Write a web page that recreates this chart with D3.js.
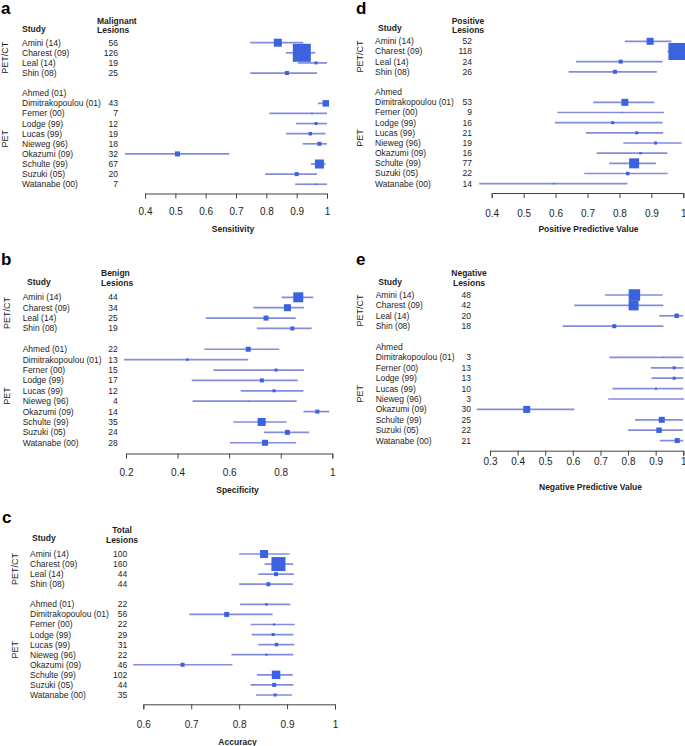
<!DOCTYPE html>
<html><head><meta charset="utf-8">
<script src="https://cdn.jsdelivr.net/npm/d3@7"></script>
<style>
body{margin:0;background:#fff}
svg{display:block;font-family:"Liberation Sans",Arial,Helvetica,sans-serif}
</style>
</head><body>
<svg id="chart" width="685" height="746"></svg>
<script>
// ---------------- DATA ----------------
const studiesYr = ["Amini (14)","Charest (09)","Leal (14)","Shin (08)","Ahmed (01)","Dimitrakopoulou (01)","Ferner (00)","Lodge (99)","Lucas (99)","Nieweg (96)","Okazumi (09)","Schulte (99)","Suzuki (05)","Watanabe (00)"];
const studiesPV = ["Amini (14)","Charest (09)","Leal (14)","Shin (08)","Ahmed","Dimitrakopoulou (01)","Ferner (00)","Lodge (99)","Lucas (99)","Nieweg (96)","Okazumi (09)","Schulte (99)","Suzuki (05)","Watanabe (00)"];
const groupNames = ["PET/CT","PET"];
const studyGroup = [0,0,0,0,1,1,1,1,1,1,1,1,1,1];

// a: Sensitivity
const sensN   = [56,126,19,25,null,43,7,12,19,18,32,67,20,7];
const sensEst = [0.838,0.917,0.964,0.868,null,0.996,0.95,0.964,0.945,0.975,0.507,0.975,0.90,0.964];
const sensLo  = [0.747,0.864,0.904,0.747,null,0.97,0.81,0.898,0.865,0.92,0.334,0.947,0.796,0.895];
const sensHi  = [0.922,0.961,1.0,0.967,null,1.0,1.0,1.0,0.995,1.0,0.678,0.995,0.967,1.0];
const sensW   = [64,324,9,16,null,42,2,9,12,16,25,81,16,2];
const sensTicks = [0.4,0.5,0.6,0.7,0.8,0.9,1];

// b: Specificity
const specN   = [44,34,25,19,22,13,15,17,12,4,14,35,24,28];
const specEst = [0.868,0.826,0.743,0.845,0.674,0.438,0.782,0.727,0.774,0.678,0.942,0.726,0.826,0.739];
const specLo  = [0.804,0.694,0.509,0.707,0.504,0.192,0.539,0.455,0.645,0.458,0.888,0.616,0.735,0.603];
const specHi  = [0.926,0.89,0.858,0.92,0.794,0.674,0.89,0.866,0.888,0.862,0.988,0.823,0.91,0.859];
const specW   = [100,49,25,16,25,6,9,16,9,1,16,64,25,36];
const specTicks = [0.2,0.4,0.6,0.8,1];

// c: Accuracy
const accN   = [100,160,44,44,22,56,22,29,31,22,46,102,44,35];
const accEst = [0.852,0.882,0.877,0.861,0.857,0.774,0.873,0.871,0.878,0.857,0.682,0.877,0.873,0.875];
const accLo  = [0.80,0.853,0.84,0.80,0.802,0.696,0.824,0.826,0.84,0.784,0.579,0.837,0.824,0.835];
const accHi  = [0.905,0.913,0.914,0.912,0.907,0.87,0.916,0.913,0.915,0.913,0.786,0.912,0.913,0.91];
const accW   = [64,196,16,16,6,25,4,9,12,4,16,72,16,9];
const accTicks = [0.6,0.7,0.8,0.9,1];

// d: Positive predictive value
const ppvN   = [52,118,24,26,null,53,9,16,21,19,16,77,22,14];
const ppvEst = [0.896,0.98,0.804,0.786,null,0.817,0.807,0.779,0.854,0.913,0.866,0.846,0.826,0.595];
const ppvLo  = [0.817,0.95,0.664,0.641,null,0.718,0.606,0.598,0.695,0.812,0.729,0.768,0.69,0.361];
const ppvHi  = [0.963,1.0,0.935,0.917,null,0.909,0.94,0.935,0.937,0.995,0.95,0.914,0.951,0.825];
const ppvW   = [49,289,16,16,null,49,1,9,9,9,6,100,12,2];
const ppvTicks = [0.4,0.5,0.6,0.7,0.8,0.9,1];

// e: Negative predictive value
const npvN   = [48,42,20,18,null,3,13,13,10,3,30,25,22,21];
const npvEst = [0.823,0.82,0.976,0.75,null,0.928,0.967,0.967,0.901,1.0,0.433,0.922,0.912,0.978];
const npvLo  = [0.716,0.605,0.913,0.563,null,0.732,0.883,0.885,0.744,0.728,0.252,0.825,0.80,0.915];
const npvHi  = [0.925,0.928,1.0,0.928,null,1.0,1.0,1.0,1.0,1.0,0.605,0.998,0.998,1.0];
const npvW   = [132,100,20,16,null,1,9,9,4,1,49,36,30,25];
const npvTicks = [0.3,0.4,0.5,0.6,0.7,0.8,0.9,1];

// ---------------- LAYOUT ----------------
const panels = [
  {letter:"a", names:studiesYr, header:["Malignant","Lesions"], title:"Sensitivity",
   n:sensN, est:sensEst, lo:sensLo, hi:sensHi, w:sensW, ticks:sensTicks,
   lx:1, ly:14, studyX:22, studyY:29.3, nameX:22, countX:118, hdrX:97, hdrAnchor:"start", hdrY:[21,30.5],
   row0:42.7, step:10.11, gX:5, xr:[145,327], axisY:193.5, labelGap:18.4, titleX:233, titleY:229.3},
  {letter:"b", names:studiesYr, header:["Benign","Lesions"], title:"Specificity",
   n:specN, est:specEst, lo:specLo, hi:specHi, w:specW, ticks:specTicks,
   lx:1, ly:265, studyX:27, studyY:281.7, nameX:22.7, countX:117.7, hdrX:101, hdrAnchor:"start", hdrY:[273.5,283.2],
   row0:297.3, step:10.39, gX:7, xr:[126,332.3], axisY:453.5, labelGap:19, titleX:237.5, titleY:490},
  {letter:"c", names:studiesYr, header:["Total","Lesions"], title:"Accuracy",
   n:accN, est:accEst, lo:accLo, hi:accHi, w:accW, ticks:accTicks,
   lx:2, ly:523, studyX:32, studyY:537.7, nameX:30, countX:127.3, hdrX:122, hdrAnchor:"middle", hdrY:[530.3,539.8],
   row0:554, step:10.07, gX:15, xr:[143.3,335], axisY:704.3, labelGap:20, titleX:237.5, titleY:741.7},
  {letter:"d", names:studiesPV, header:["Positive","Lesions"], title:"Positive Predictive Value",
   n:ppvN, est:ppvEst, lo:ppvLo, hi:ppvHi, w:ppvW, ticks:ppvTicks,
   lx:356, ly:14, studyX:378, studyY:28.3, nameX:375, countX:472, hdrX:468, hdrAnchor:"middle", hdrY:[20.6,30.2],
   row0:41.3, step:10.17, gX:360, xr:[491.7,683.3], axisY:193, labelGap:20, titleX:588.5, titleY:229.3},
  {letter:"e", names:studiesPV, header:["Negative","Lesions"], title:"Negative Predictive Value",
   n:npvN, est:npvEst, lo:npvLo, hi:npvHi, w:npvW, ticks:npvTicks,
   lx:356, ly:265, studyX:378.3, studyY:281.7, nameX:375.7, countX:471, hdrX:469, hdrAnchor:"middle", hdrY:[273.2,283],
   row0:295, step:10.4, gX:359.7, xr:[490,683.3], axisY:450.7, labelGap:11, titleX:590.5, titleY:486.7}
];

const LINE_COL = "#848cdb", BOX_COL = "#3b63df", TXT = "#1e1e1e";
const svg = d3.select("#chart");
const rowIdx = i => (studyGroup[i] === 0 ? i : i + 1);
const boxSide = d3.scaleSqrt().domain([0, 400]).range([0, 20]);
const fmt = v => (v === 1 ? "1" : d3.format(".1f")(v));

panels.forEach(p => {
  const g = svg.append("g");
  const x = d3.scaleLinear().domain([p.ticks[0], p.ticks[p.ticks.length - 1]]).range(p.xr);
  const y = i => p.row0 + rowIdx(i) * p.step;
  const idx = d3.range(p.names.length);

  g.append("text").attr("x", p.lx).attr("y", p.ly).text(p.letter)
    .attr("font-size", 17).attr("font-weight", "bold").attr("fill", "#000");

  g.append("text").attr("x", p.studyX).attr("y", p.studyY).attr("dy", "0.35em")
    .attr("font-size", 8.5).attr("font-weight", "bold").attr("fill", TXT).text("Study");
  p.header.forEach((h, k) => {
    g.append("text").attr("x", p.hdrX).attr("y", p.hdrY[k]).attr("dy", "0.35em")
      .attr("text-anchor", p.hdrAnchor).attr("font-size", 8.5).attr("font-weight", "bold")
      .attr("fill", TXT).text(h);
  });

  groupNames.forEach((gn, gi) => {
    const members = idx.filter(i => studyGroup[i] === gi);
    const cy = (y(members[0]) + y(members[members.length - 1])) / 2;
    g.append("text").attr("transform", `translate(${p.gX},${cy}) rotate(-90)`)
      .attr("text-anchor", "middle").attr("dy", "0.35em")
      .attr("font-size", 9).attr("fill", TXT).text(gn);
  });

  g.selectAll(".nm").data(idx).join("text")
    .attr("x", p.nameX).attr("y", i => y(i)).attr("dy", "0.35em")
    .attr("font-size", 8.5).attr("fill", TXT).text(i => p.names[i]);
  g.selectAll(".ct").data(idx.filter(i => p.n[i] != null)).join("text")
    .attr("x", p.countX).attr("y", i => y(i)).attr("dy", "0.35em").attr("text-anchor", "end")
    .attr("font-size", 8.5).attr("fill", TXT).text(i => p.n[i]);

  const valid = idx.filter(i => p.est[i] != null);
  g.selectAll(".ci").data(valid).join("line")
    .attr("x1", i => x(p.lo[i])).attr("x2", i => x(p.hi[i]))
    .attr("y1", i => y(i)).attr("y2", i => y(i))
    .attr("stroke", LINE_COL).attr("stroke-width", 1.7);
  g.selectAll(".bx").data(valid).join("rect")
    .attr("x", i => x(p.est[i]) - boxSide(p.w[i]) / 2)
    .attr("y", i => y(i) - boxSide(p.w[i]) / 2)
    .attr("width", i => boxSide(p.w[i])).attr("height", i => boxSide(p.w[i]))
    .attr("fill", BOX_COL);

  const tickSize = 5;
  const axis = d3.axisBottom(x).tickValues(p.ticks).tickFormat(fmt)
    .tickSize(tickSize).tickPadding(p.labelGap - tickSize - 3.6);
  const ax = g.append("g").attr("transform", `translate(0,${p.axisY})`).call(axis);
  ax.select(".domain").attr("stroke", "#444");
  ax.selectAll(".tick line").attr("stroke", "#444");
  ax.selectAll(".tick text").attr("font-size", 10).attr("fill", TXT)
    .attr("font-family", "'Liberation Sans',Arial,sans-serif");

  g.append("text").attr("x", p.titleX).attr("y", p.titleY).attr("dy", "0.35em")
    .attr("text-anchor", "middle").attr("font-size", 8.5).attr("font-weight", "bold")
    .attr("fill", TXT).text(p.title);
});
</script>
</body></html>
